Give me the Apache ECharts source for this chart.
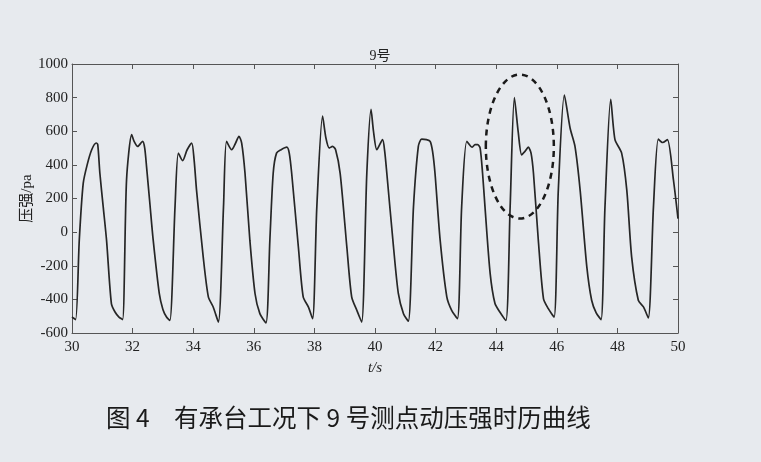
<!DOCTYPE html>
<html><head><meta charset="utf-8">
<script src="https://cdn.jsdelivr.net/npm/echarts@6/dist/echarts.min.js"></script>
<style>html,body{margin:0;padding:0;background:#e7eaee;}#c{width:761px;height:462px;}</style>
</head><body><div id="c"></div>
<script>
const chartTitle = '9号';
const xAxisName = 't/s';
const yAxisName = '压强/pa';
const caption = '图 4　有承台工况下 9 号测点动压强时历曲线';
const timeS = [30.0,30.12,30.24,30.37,30.5,30.65,30.8,30.85,30.92,31.03,31.14,31.3,31.42,31.55,31.67,
31.8,31.97,32.05,32.17,32.33,32.4,32.46,32.57,32.68,32.88,33.0,33.12,33.23,
33.4,33.51,33.65,33.8,33.95,34.03,34.11,34.33,34.5,34.66,34.83,
35.0,35.1,35.27,35.4,35.51,35.6,35.71,35.87,36.04,36.2,36.4,
36.53,36.64,36.75,36.9,37.09,37.17,37.25,37.47,37.63,37.8,37.94,
38.08,38.27,38.38,38.49,38.6,38.7,38.85,39.07,39.23,39.4,39.56,
39.73,39.87,39.95,40.06,40.25,40.32,40.39,40.61,40.77,40.94,41.1,
41.27,41.43,41.54,41.7,41.82,41.9,41.98,42.15,42.37,42.53,42.72,
42.86,43.03,43.21,43.3,43.39,43.47,43.55,43.63,43.8,43.96,44.12,44.32,
44.46,44.6,44.73,44.84,44.95,45.06,45.15,45.23,45.39,45.56,45.72,45.91,
46.05,46.25,46.44,46.6,46.77,46.99,47.15,47.3,47.46,
47.59,47.78,47.92,48.14,48.31,48.47,48.69,48.86,49.02,
49.19,49.35,49.49,49.65,49.85,50.0];
const pressurePa = [-505,-520,-48,290,400,490,530,520,350,150,-48,-425,-475,-505,-520,
310,580,540,510,540,500,390,170,-48,-365,-460,-505,-525,
150,470,425,490,530,430,250,-147,-385,-445,-535,
150,540,490,530,570,530,350,-48,-365,-485,-540,
-48,350,470,490,505,470,350,-87,-385,-445,-515,
150,690,560,500,510,490,350,-87,-385,-465,-535,
350,730,600,490,550,480,350,-87,-365,-485,-530,
150,510,553,550,540,480,350,-48,-385,-465,-515,
150,540,505,520,520,500,350,150,-245,-425,-475,-525,
150,800,590,460,480,505,470,350,-48,-395,-455,-505,
250,815,618,510,250,-205,-405,-480,-520,
150,790,550,470,250,-147,-405,-445,-510,
150,553,533,550,310,80];
const ellipseCenter = [44.78, 509];
const ellipseRadiusPx = [34, 72];

const chart = echarts.init(document.getElementById('c'));
const axisCommon = {
  axisLine:{show:true,onZero:false,lineStyle:{color:'#555',width:1}},
  axisTick:{show:true,inside:true,length:5,lineStyle:{color:'#555'}},
  splitLine:{show:false}
};
const lbl = {color:'#222',fontFamily:'Liberation Serif',fontSize:15,formatter:v=>String(v)};
chart.setOption({
  backgroundColor:'#e7eaee',
  animation:false,
  title:{text:chartTitle,left:375,textAlign:'center',top:44,textStyle:{fontFamily:'Liberation Serif, Noto Sans CJK SC',fontSize:14,fontWeight:'normal',color:'#222'}},
  grid:{left:72,right:83,top:64,bottom:129},
  xAxis:[
    Object.assign({type:'value',min:30,max:50,interval:2,position:'bottom',
      name:xAxisName,nameLocation:'middle',nameGap:28,nameMoveOverlap:false,
      nameTextStyle:{fontFamily:'Liberation Serif',fontStyle:'italic',fontSize:15,color:'#222'},
      axisLabel:Object.assign({margin:7},lbl)},axisCommon),
    Object.assign({type:'value',min:30,max:50,interval:2,position:'top',axisLabel:{show:false}},axisCommon)
  ],
  yAxis:[
    Object.assign({type:'value',min:-600,max:1000,interval:200,position:'left',
      name:yAxisName,nameLocation:'middle',nameGap:37,nameRotate:90,nameMoveOverlap:false,
      nameTextStyle:{fontFamily:'Liberation Serif, Noto Sans CJK SC',fontSize:15,color:'#222'},
      axisLabel:Object.assign({margin:4},lbl)},axisCommon),
    Object.assign({type:'value',min:-600,max:1000,interval:200,position:'right',axisLabel:{show:false}},axisCommon)
  ],
  series:[{type:'line',data:timeS.map((t,i)=>[t,pressurePa[i]]),showSymbol:false,smooth:0.25,
    lineStyle:{color:'#262626',width:1.7}}]
});
const c = chart.convertToPixel({xAxisIndex:0,yAxisIndex:0}, ellipseCenter);
chart.setOption({graphic:[
  {type:'ellipse',shape:{cx:c[0],cy:c[1],rx:ellipseRadiusPx[0],ry:ellipseRadiusPx[1]},
   style:{fill:null,stroke:'#1a1a1a',lineWidth:2.5,lineDash:[6,5]},z:100},
  {type:'text',left:106,top:405,style:{text:caption,fontFamily:'Noto Sans CJK SC',fontSize:24.5,fill:'#1a1a1a'}}
]});
</script></body></html>
